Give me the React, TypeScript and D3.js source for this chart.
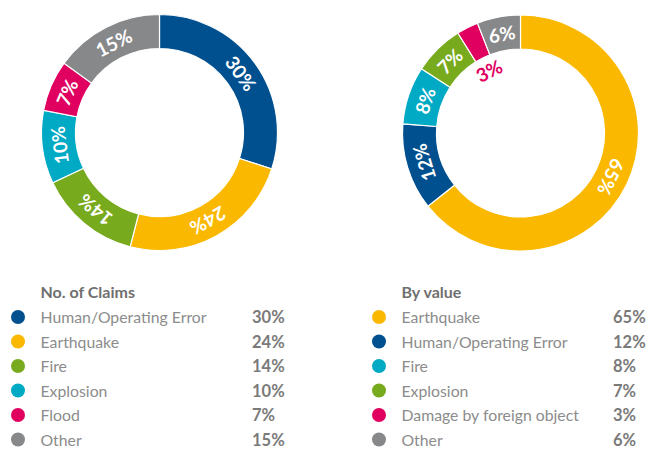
import React from "react";
import * as d3 from "d3";

const claimsCategories = ["Human/Operating Error", "Earthquake", "Fire", "Explosion", "Flood", "Other"];
const claimsValues = [30, 24, 14, 10, 7, 15];
const claimsColors = ["#00508f", "#fab900", "#78aa1e", "#00a9c4", "#e0005f", "#87888a"];

const valueCategories = ["Earthquake", "Human/Operating Error", "Fire", "Explosion", "Damage by foreign object", "Other"];
const valueValues = [65, 12, 8, 7, 3, 6];
const valueColors = ["#fab900", "#00508f", "#00a9c4", "#78aa1e", "#e0005f", "#87888a"];

const FONT = "Lato, 'Open Sans', sans-serif";

type DonutProps = {
  cx: number;
  cy: number;
  values: number[];
  colors: string[];
  outsideIndex?: number;
};

function Donut({ cx, cy, values, colors, outsideIndex }: DonutProps) {
  const outer = 118;
  const inner = 84;
  const pie = d3.pie<number>().sort(null).value((d) => d)(values);
  const arc = d3.arc<d3.PieArcDatum<number>>().innerRadius(inner).outerRadius(outer);
  return (
    <g transform={`translate(${cx},${cy})`}>
      {pie.map((p, i) => (
        <path key={i} d={arc(p) || ""} fill={colors[i]} stroke="#ffffff" strokeWidth={1.2} />
      ))}
      {pie.map((p, i) => {
        const mid = (p.startAngle + p.endAngle) / 2;
        const isOut = i === outsideIndex;
        const r = isOut ? 70 : (inner + outer) / 2;
        const x = Math.sin(mid) * r;
        const y = -Math.cos(mid) * r;
        const deg = (mid * 180) / Math.PI;
        return (
          <text
            key={"t" + i}
            transform={`translate(${x},${y}) rotate(${deg})`}
            textAnchor="middle"
            dominantBaseline="central"
            fill={isOut ? colors[i] : "#ffffff"}
            fontFamily={FONT}
            fontWeight={700}
            fontSize={19}
          >
            {`${values[i]}%`}
          </text>
        );
      })}
    </g>
  );
}

type LegendProps = {
  x: number;
  y: number;
  valueX: number;
  title: string;
  categories: string[];
  values: number[];
  colors: string[];
};

function Legend({ x, y, valueX, title, categories, values, colors }: LegendProps) {
  const rowH = 24.5;
  return (
    <g fontFamily={FONT}>
      <text x={x + 22.5} y={y} fontSize={16} fontWeight={700} fill="#6f6f6f">
        {title}
      </text>
      {categories.map((c, i) => {
        const ry = y + 25 + i * rowH;
        return (
          <g key={i}>
            <circle cx={x} cy={ry - 6} r={7} fill={colors[i]} />
            <text x={x + 22.5} y={ry} fontSize={15.8} fill="#8c8c8c">
              {c}
            </text>
            <text x={valueX} y={ry} fontSize={16.5} fontWeight={700} fill="#7a7a7a">
              {`${values[i]}%`}
            </text>
          </g>
        );
      })}
    </g>
  );
}

export default function App() {
  return (
    <svg width={647} height={449} style={{ position: "absolute", left: 0, top: 0 }}>
      <rect width={647} height={449} fill="#ffffff" />
      <Donut cx={159.5} cy={132.5} values={claimsValues} colors={claimsColors} />
      <Donut cx={520.5} cy={133} values={valueValues} colors={valueColors} outsideIndex={4} />
      <Legend x={18} y={298} valueX={252} title="No. of Claims" categories={claimsCategories} values={claimsValues} colors={claimsColors} />
      <Legend x={379} y={298} valueX={613} title="By value" categories={valueCategories} values={valueValues} colors={valueColors} />
    </svg>
  );
}
